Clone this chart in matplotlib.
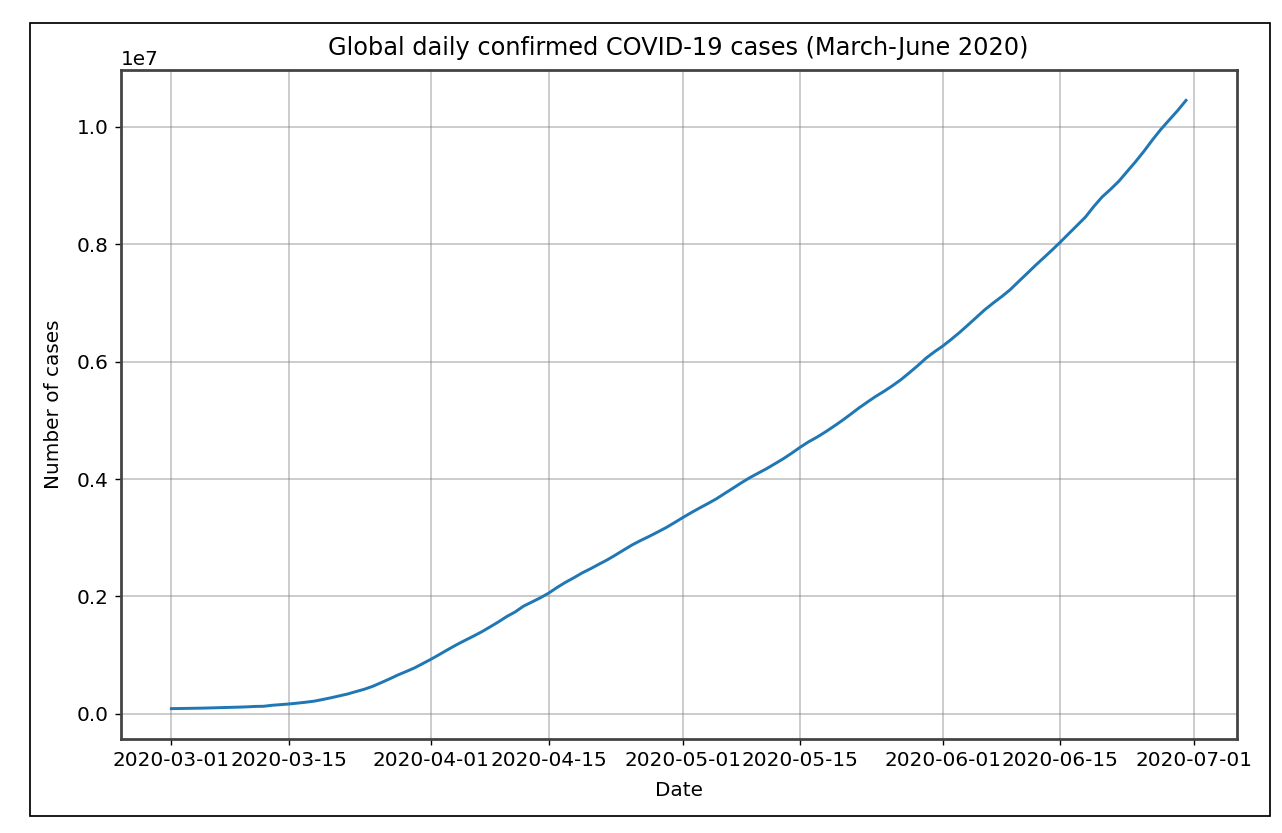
import numpy as np
import pandas as pd
import matplotlib
matplotlib.use('Agg')
import matplotlib.pyplot as plt
import matplotlib.dates as mdates
from matplotlib.patches import Rectangle

# global cumulative confirmed cases, 2020-03-01 .. 2020-06-30
dates = pd.date_range('2020-03-01', '2020-06-30', freq='D')
cases = [
    88369, 90306, 92840, 95120, 97886, 101801, 105847, 109821, 113590, 118620,
    125875, 128352, 145205, 156101, 167454, 181574, 197102, 214821, 242570, 272208,
    304507, 336953, 378235, 418045, 467653, 529591, 593291, 660693, 720140, 782389,
    857487,
    932605, 1013466, 1095917, 1176060, 1249754, 1321481, 1396476, 1480202, 1565278,
    1657526, 1735650, 1834721, 1904838, 1976191, 2056054, 2152437, 2240190, 2317758,
    2401378, 2472259, 2549123, 2624090, 2708403, 2795729, 2881140, 2955033, 3023722,
    3097229, 3172287, 3256846,
    3343777, 3427343, 3506729, 3583055, 3662691, 3755341, 3845718, 3938064, 4024009,
    4101699, 4177502, 4261747, 4347018, 4442163, 4542347, 4634068, 4713620, 4801943,
    4897492, 4996472, 5102424, 5210817, 5310362, 5407613, 5495061, 5589626, 5691790,
    5808946, 5930096, 6059017, 6166946,
    6265852, 6378238, 6496934, 6623815, 6753611, 6883127, 6997214, 7105036, 7221113,
    7359086, 7494911, 7633017, 7764453, 7897281, 8033811, 8177216, 8318776, 8460982,
    8641975, 8805336, 8934833, 9074134, 9241587, 9408254, 9586141, 9777487, 9955441,
    10117227, 10275799, 10449697,
]
tick_dates = pd.to_datetime(['2020-03-01', '2020-03-15', '2020-04-01', '2020-04-15',
                             '2020-05-01', '2020-05-15', '2020-06-01', '2020-06-15',
                             '2020-07-01'])

plt.rcParams['font.size'] = 11.5

fig = plt.figure(figsize=(1282 / 125, 833 / 125), dpi=125)
ax = fig.add_axes([0.0941, 0.1128, 0.8706, 0.8032])

ax.plot(dates, cases, color='#1f77b4', linewidth=1.7)

ax.set_xticks(tick_dates)
ax.xaxis.set_major_formatter(mdates.DateFormatter('%Y-%m-%d'))
ax.set_title('Global daily confirmed COVID-19 cases (March-June 2020)', fontsize=13.8, pad=8.5)
ax.set_xlabel('Date', labelpad=6)
ax.set_ylabel('Number of cases', labelpad=8)
ax.grid(color='gray', alpha=0.45, linewidth=1.0)

for s in ax.spines.values():
    s.set_linewidth(1.6)
    s.set_color('#444444')

# outer frame
fig.patches.append(Rectangle((30 / 1282, 1 - 816 / 833), 1240 / 1282, 793 / 833,
                             transform=fig.transFigure, fill=False,
                             edgecolor='black', linewidth=1.0))

plt.savefig('out.png', dpi=125)
